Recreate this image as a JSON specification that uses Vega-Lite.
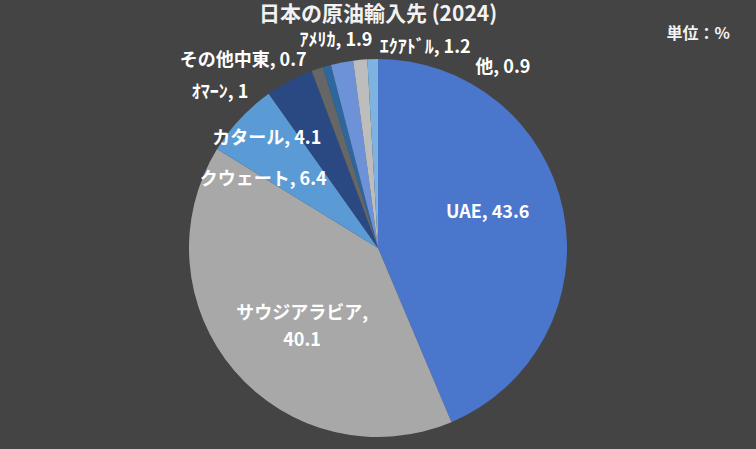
{
  "$schema": "https://vega.github.io/schema/vega-lite/v6.json",
  "description": "日本の原油輸入先 (2024)",
  "autosize": "none",
  "width": 756,
  "height": 402,
  "padding": {"top": 47, "left": 0, "right": 0, "bottom": 0},
  "background": "#444444",
  "title": {
    "text": "日本の原油輸入先 (2024)",
    "font": "Noto Sans CJK JP",
    "fontSize": 21,
    "fontWeight": "bold",
    "color": "#F2F2F2",
    "anchor": "middle",
    "baseline": "bottom",
    "offset": -20
  },
  "config": {
    "view": {"stroke": null},
    "text": {"font": "Noto Sans CJK JP", "fontSize": 18, "fontWeight": "bold", "color": "#FFFFFF"}
  },
  "layer": [
    {
      "data": {
        "values": [
          {"rank": 1, "name": "UAE", "value": 43.6},
          {"rank": 2, "name": "サウジアラビア", "value": 40.1},
          {"rank": 3, "name": "クウェート", "value": 6.4},
          {"rank": 4, "name": "カタール", "value": 4.1},
          {"rank": 5, "name": "ｵﾏｰﾝ", "value": 1},
          {"rank": 6, "name": "その他中東", "value": 0.7},
          {"rank": 7, "name": "ｱﾒﾘｶ", "value": 1.9},
          {"rank": 8, "name": "ｴｸｱﾄﾞﾙ", "value": 1.2},
          {"rank": 9, "name": "他", "value": 0.9}
        ]
      },
      "transform": [
        {"calculate": "datum.name === 'サウジアラビア' ? datum.name + ',|' + datum.value : datum.name + ', ' + datum.value", "as": "label"}
      ],
      "encoding": {
        "theta": {"field": "value", "type": "quantitative", "stack": true},
        "order": {"field": "rank", "type": "quantitative"},
        "detail": {"field": "name", "type": "nominal"}
      },
      "layer": [
        {
          "mark": {"type": "arc", "outerRadius": 189},
          "encoding": {
            "color": {
              "field": "name",
              "type": "nominal",
              "legend": null,
              "scale": {
                "domain": ["UAE", "サウジアラビア", "クウェート", "カタール", "ｵﾏｰﾝ", "その他中東", "ｱﾒﾘｶ", "ｴｸｱﾄﾞﾙ", "他"],
                "range": ["#4A76CC", "#A8A8A8", "#5B9BD5", "#2A4982", "#666666", "#2D679E", "#6E92D8", "#BDBDBD", "#7EB2E0"]
              }
            }
          }
        },
        {
          "mark": {"type": "text", "radius": 115, "dx": -3, "dy": -12},
          "encoding": {"text": {"condition": {"test": "datum.name === 'UAE'", "field": "label"}, "value": ""}}
        },
        {
          "mark": {"type": "text", "radius": 100, "dy": 1, "lineBreak": "|", "lineHeight": 27},
          "encoding": {"text": {"condition": {"test": "datum.name === 'サウジアラビア'", "field": "label"}, "value": ""}}
        },
        {
          "mark": {"type": "text", "radius": 130, "dx": -20, "dy": 21},
          "encoding": {"text": {"condition": {"test": "datum.name === 'クウェート'", "field": "label"}, "value": ""}}
        },
        {
          "mark": {"type": "text", "radius": 150, "dx": -41, "dy": 24},
          "encoding": {"text": {"condition": {"test": "datum.name === 'カタール'", "field": "label"}, "value": ""}}
        },
        {
          "mark": {"type": "text", "radius": 170, "align": "right", "dx": -75, "dy": 6},
          "encoding": {"text": {"condition": {"test": "datum.name === 'ｵﾏｰﾝ'", "field": "label"}, "value": ""}}
        },
        {
          "mark": {"type": "text", "radius": 190, "align": "right", "dx": -20, "dy": -4},
          "encoding": {"text": {"condition": {"test": "datum.name === 'その他中東'", "field": "label"}, "value": ""}}
        },
        {
          "mark": {"type": "text", "radius": 210, "dx": -2, "dy": -1},
          "encoding": {"text": {"condition": {"test": "datum.name === 'ｱﾒﾘｶ'", "field": "label"}, "value": ""}}
        },
        {
          "mark": {"type": "text", "radius": 205, "align": "left", "dx": 21, "dy": 4},
          "encoding": {"text": {"condition": {"test": "datum.name === 'ｴｸｱﾄﾞﾙ'", "field": "label"}, "value": ""}}
        },
        {
          "mark": {"type": "text", "radius": 200, "align": "left", "dx": 103, "dy": 20},
          "encoding": {"text": {"condition": {"test": "datum.name === '他'", "field": "label"}, "value": ""}}
        }
      ]
    },
    {
      "data": {"values": [{"note": "単位：%"}]},
      "mark": {"type": "text", "align": "right", "fontSize": 16, "color": "#F2F2F2", "dx": -26},
      "encoding": {
        "text": {"field": "note", "type": "nominal"},
        "x": {"value": "width"},
        "y": {"value": -13}
      }
    }
  ]
}
